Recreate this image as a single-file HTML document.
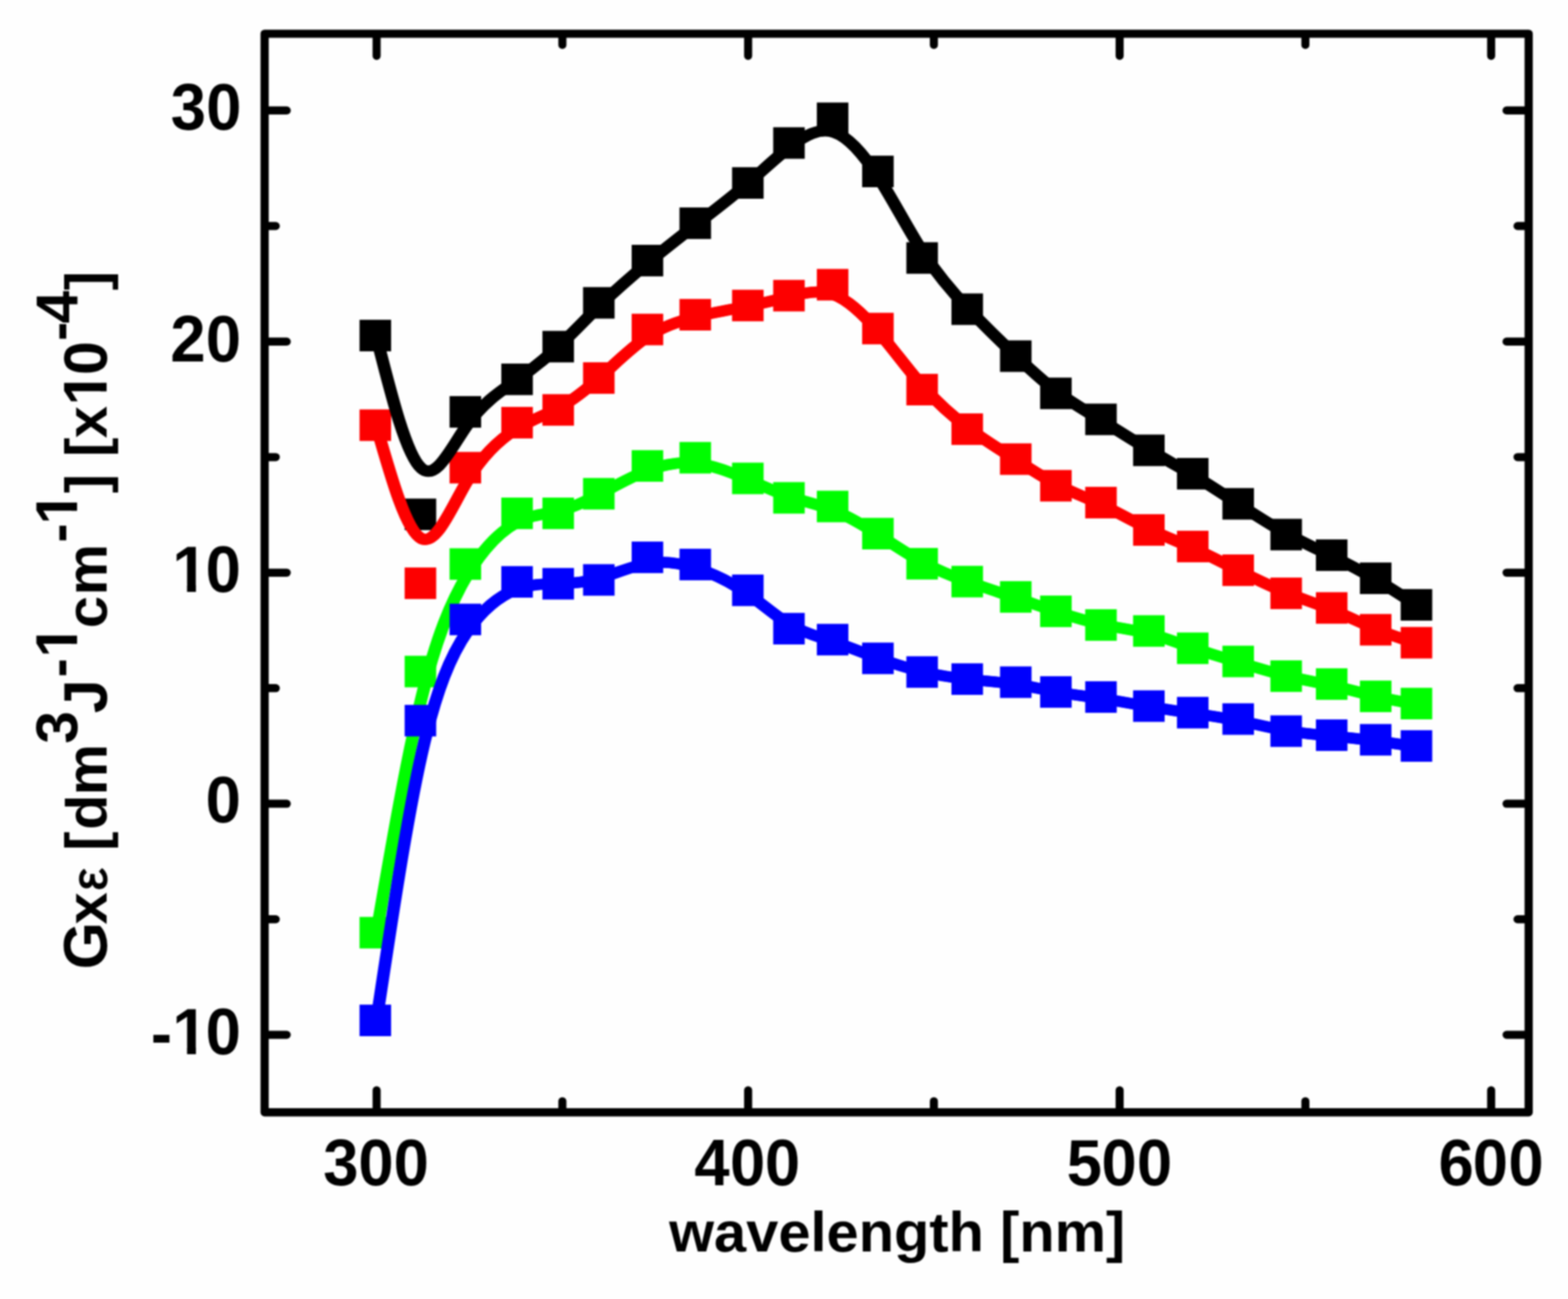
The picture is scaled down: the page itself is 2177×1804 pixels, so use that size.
<!DOCTYPE html>
<html lang="en"><head><meta charset="utf-8"><title>Gx&#949; vs wavelength</title>
<style>
html,body{margin:0;padding:0;background:#fefefe;}
body{width:2177px;height:1804px;overflow:hidden;}
svg{display:block;}
text{font-family:"Liberation Sans",Arial,Helvetica,sans-serif;font-weight:bold;fill:#000;}
.tk{font-size:88px;}
.lb{font-size:80px;}
</style></head><body>
<svg width="2177" height="1804" viewBox="0 0 2177 1804" role="img" aria-label="G x epsilon versus wavelength">
<defs><filter id="soft" filterUnits="userSpaceOnUse" x="0" y="0" width="2177" height="1804" color-interpolation-filters="sRGB"><feGaussianBlur stdDeviation="0.9"/></filter></defs>
<rect x="0" y="0" width="2177" height="1804" fill="#fefefe"/>
<g filter="url(#soft)">
<rect x="-20" y="-20" width="2217" height="1844" fill="#fefefe"/>
<g fill="#000000">
<rect x="499.2" y="444.1" width="43.8" height="43.8"/>
<rect x="561.8" y="692.4" width="43.8" height="43.8"/>
<rect x="624.2" y="550.1" width="43.8" height="43.8"/>
<rect x="696.0" y="504.9" width="43.8" height="43.8"/>
<rect x="753.1" y="459.5" width="43.8" height="43.8"/>
<rect x="809.5" y="398.7" width="43.8" height="43.8"/>
<rect x="877.0" y="340.0" width="43.8" height="43.8"/>
<rect x="943.4" y="288.1" width="43.8" height="43.8"/>
<rect x="1016.4" y="232.2" width="43.8" height="43.8"/>
<rect x="1073.5" y="176.7" width="43.8" height="43.8"/>
<rect x="1134.1" y="142.4" width="43.8" height="43.8"/>
<rect x="1197.0" y="216.2" width="43.8" height="43.8"/>
<rect x="1258.4" y="336.4" width="43.8" height="43.8"/>
<rect x="1321.0" y="407.5" width="43.8" height="43.8"/>
<rect x="1388.4" y="472.7" width="43.8" height="43.8"/>
<rect x="1444.1" y="524.4" width="43.8" height="43.8"/>
<rect x="1506.7" y="560.5" width="43.8" height="43.8"/>
<rect x="1573.2" y="603.5" width="43.8" height="43.8"/>
<rect x="1634.1" y="636.0" width="43.8" height="43.8"/>
<rect x="1697.2" y="677.8" width="43.8" height="43.8"/>
<rect x="1763.8" y="720.5" width="43.8" height="43.8"/>
<rect x="1827.0" y="749.1" width="43.8" height="43.8"/>
<rect x="1888.1" y="781.2" width="43.8" height="43.8"/>
<rect x="1944.7" y="818.1" width="43.8" height="43.8"/>
</g>
<g fill="#fd0000">
<rect x="499.2" y="568.6" width="43.8" height="43.8"/>
<rect x="561.8" y="788.1" width="43.8" height="43.8"/>
<rect x="624.2" y="627.6" width="43.8" height="43.8"/>
<rect x="696.0" y="565.1" width="43.8" height="43.8"/>
<rect x="753.1" y="547.4" width="43.8" height="43.8"/>
<rect x="809.5" y="503.1" width="43.8" height="43.8"/>
<rect x="877.0" y="435.7" width="43.8" height="43.8"/>
<rect x="943.4" y="415.2" width="43.8" height="43.8"/>
<rect x="1016.4" y="402.4" width="43.8" height="43.8"/>
<rect x="1073.5" y="388.7" width="43.8" height="43.8"/>
<rect x="1134.1" y="373.5" width="43.8" height="43.8"/>
<rect x="1197.0" y="434.4" width="43.8" height="43.8"/>
<rect x="1258.4" y="519.2" width="43.8" height="43.8"/>
<rect x="1321.0" y="574.1" width="43.8" height="43.8"/>
<rect x="1388.4" y="615.7" width="43.8" height="43.8"/>
<rect x="1444.1" y="652.7" width="43.8" height="43.8"/>
<rect x="1506.7" y="676.1" width="43.8" height="43.8"/>
<rect x="1573.2" y="714.1" width="43.8" height="43.8"/>
<rect x="1634.1" y="737.1" width="43.8" height="43.8"/>
<rect x="1697.2" y="770.0" width="43.8" height="43.8"/>
<rect x="1763.8" y="802.1" width="43.8" height="43.8"/>
<rect x="1827.0" y="822.4" width="43.8" height="43.8"/>
<rect x="1888.1" y="852.7" width="43.8" height="43.8"/>
<rect x="1944.7" y="870.7" width="43.8" height="43.8"/>
</g>
<g fill="none" stroke="#000000" stroke-width="15.3" stroke-linejoin="round" stroke-linecap="butt">
<path d="M522.6 467.3C543.5 550.1 564.3 632.8 585.2 650.5C606.0 668.2 626.8 620.7 649.2 589.5C671.5 558.2 695.5 543.2 716.9 528.1C738.4 513.0 757.5 497.8 776.4 480.1C795.3 462.4 814.1 442.2 834.8 422.2C855.4 402.3 877.9 382.8 900.2 364.3C922.5 345.9 944.7 328.6 967.9 310.6C991.1 292.7 1015.5 274.0 1037.1 255.5C1058.8 236.9 1077.9 218.4 1097.5 203.4C1117.1 188.5 1137.3 177.0 1157.9 183.6C1178.5 190.2 1199.4 214.8 1220.2 247.1C1240.9 279.5 1261.3 319.5 1282.0 351.4C1302.7 383.3 1323.5 407.0 1345.2 429.7C1366.9 452.4 1389.3 474.2 1409.9 493.7C1430.4 513.1 1448.9 530.4 1468.6 545.0C1488.4 559.6 1509.2 571.7 1530.8 584.8C1552.3 598.0 1574.4 612.4 1595.7 624.9C1616.9 637.5 1637.2 648.4 1657.9 660.7C1678.5 673.1 1699.6 687.1 1721.2 701.1C1742.8 715.2 1765.0 729.5 1786.6 741.3C1808.3 753.2 1829.3 762.8 1850.1 772.9C1870.8 783.0 1891.1 793.7 1910.8 805.2C1930.4 816.7 1949.2 829.0 1968.1 841.3" transform="translate(-1.0 0)"/>
<path d="M522.6 467.3C543.5 550.1 564.3 632.8 585.2 650.5C606.0 668.2 626.8 620.7 649.2 589.5C671.5 558.2 695.5 543.2 716.9 528.1C738.4 513.0 757.5 497.8 776.4 480.1C795.3 462.4 814.1 442.2 834.8 422.2C855.4 402.3 877.9 382.8 900.2 364.3C922.5 345.9 944.7 328.6 967.9 310.6C991.1 292.7 1015.5 274.0 1037.1 255.5C1058.8 236.9 1077.9 218.4 1097.5 203.4C1117.1 188.5 1137.3 177.0 1157.9 183.6C1178.5 190.2 1199.4 214.8 1220.2 247.1C1240.9 279.5 1261.3 319.5 1282.0 351.4C1302.7 383.3 1323.5 407.0 1345.2 429.7C1366.9 452.4 1389.3 474.2 1409.9 493.7C1430.4 513.1 1448.9 530.4 1468.6 545.0C1488.4 559.6 1509.2 571.7 1530.8 584.8C1552.3 598.0 1574.4 612.4 1595.7 624.9C1616.9 637.5 1637.2 648.4 1657.9 660.7C1678.5 673.1 1699.6 687.1 1721.2 701.1C1742.8 715.2 1765.0 729.5 1786.6 741.3C1808.3 753.2 1829.3 762.8 1850.1 772.9C1870.8 783.0 1891.1 793.7 1910.8 805.2C1930.4 816.7 1949.2 829.0 1968.1 841.3" transform="translate(1.0 0)"/>
</g>
<g fill="none" stroke="#fd0000" stroke-width="15.3" stroke-linejoin="round" stroke-linecap="butt">
<path d="M522.6 591.8C543.5 665.0 564.3 738.1 585.2 748.0C606.0 757.8 626.8 704.3 649.2 667.1C671.5 630.0 695.5 609.1 716.9 595.8C738.4 582.4 757.5 576.5 776.4 566.2C795.3 555.8 814.1 541.1 834.8 522.4C855.4 503.8 877.9 481.4 900.2 466.7C922.5 452.1 944.7 445.2 967.9 439.7C991.1 434.1 1015.5 429.9 1037.1 425.5C1058.8 421.0 1077.9 416.5 1097.5 411.7C1117.1 406.8 1137.3 401.8 1157.9 409.4C1178.5 417.0 1199.4 437.3 1220.2 461.6C1240.9 485.9 1261.3 514.1 1282.0 537.4C1302.7 560.7 1323.5 579.0 1345.2 595.1C1366.9 611.2 1389.3 625.0 1409.9 638.1C1430.4 651.2 1448.9 663.6 1468.6 673.6C1488.4 683.7 1509.2 691.5 1530.8 701.7C1552.3 712.0 1574.4 724.6 1595.7 734.8C1616.9 745.0 1637.2 752.6 1657.9 761.9C1678.5 771.3 1699.6 782.2 1721.2 793.1C1742.8 803.9 1765.0 814.6 1786.6 823.3C1808.3 832.1 1829.3 838.8 1850.1 847.3C1870.8 855.7 1891.1 865.8 1910.8 873.8C1930.4 881.9 1949.2 887.9 1968.1 893.9" transform="translate(-1.0 0)"/>
<path d="M522.6 591.8C543.5 665.0 564.3 738.1 585.2 748.0C606.0 757.8 626.8 704.3 649.2 667.1C671.5 630.0 695.5 609.1 716.9 595.8C738.4 582.4 757.5 576.5 776.4 566.2C795.3 555.8 814.1 541.1 834.8 522.4C855.4 503.8 877.9 481.4 900.2 466.7C922.5 452.1 944.7 445.2 967.9 439.7C991.1 434.1 1015.5 429.9 1037.1 425.5C1058.8 421.0 1077.9 416.5 1097.5 411.7C1117.1 406.8 1137.3 401.8 1157.9 409.4C1178.5 417.0 1199.4 437.3 1220.2 461.6C1240.9 485.9 1261.3 514.1 1282.0 537.4C1302.7 560.7 1323.5 579.0 1345.2 595.1C1366.9 611.2 1389.3 625.0 1409.9 638.1C1430.4 651.2 1448.9 663.6 1468.6 673.6C1488.4 683.7 1509.2 691.5 1530.8 701.7C1552.3 712.0 1574.4 724.6 1595.7 734.8C1616.9 745.0 1637.2 752.6 1657.9 761.9C1678.5 771.3 1699.6 782.2 1721.2 793.1C1742.8 803.9 1765.0 814.6 1786.6 823.3C1808.3 832.1 1829.3 838.8 1850.1 847.3C1870.8 855.7 1891.1 865.8 1910.8 873.8C1930.4 881.9 1949.2 887.9 1968.1 893.9" transform="translate(1.0 0)"/>
</g>
<g fill="#00fd00">
<rect x="499.2" y="1273.4" width="43.8" height="43.8"/>
<rect x="561.8" y="910.7" width="43.8" height="43.8"/>
<rect x="624.2" y="761.4" width="43.8" height="43.8"/>
<rect x="696.0" y="691.0" width="43.8" height="43.8"/>
<rect x="753.1" y="691.0" width="43.8" height="43.8"/>
<rect x="809.5" y="663.8" width="43.8" height="43.8"/>
<rect x="877.0" y="625.2" width="43.8" height="43.8"/>
<rect x="943.4" y="613.8" width="43.8" height="43.8"/>
<rect x="1016.4" y="642.5" width="43.8" height="43.8"/>
<rect x="1073.5" y="669.5" width="43.8" height="43.8"/>
<rect x="1134.1" y="681.5" width="43.8" height="43.8"/>
<rect x="1197.0" y="719.2" width="43.8" height="43.8"/>
<rect x="1258.4" y="761.0" width="43.8" height="43.8"/>
<rect x="1321.0" y="785.8" width="43.8" height="43.8"/>
<rect x="1388.4" y="807.1" width="43.8" height="43.8"/>
<rect x="1444.1" y="827.1" width="43.8" height="43.8"/>
<rect x="1506.7" y="846.1" width="43.8" height="43.8"/>
<rect x="1573.2" y="854.4" width="43.8" height="43.8"/>
<rect x="1634.1" y="878.4" width="43.8" height="43.8"/>
<rect x="1697.2" y="896.7" width="43.8" height="43.8"/>
<rect x="1763.8" y="917.1" width="43.8" height="43.8"/>
<rect x="1827.0" y="928.1" width="43.8" height="43.8"/>
<rect x="1888.1" y="945.2" width="43.8" height="43.8"/>
<rect x="1944.7" y="955.2" width="43.8" height="43.8"/>
</g>
<g fill="none" stroke="#00fd00" stroke-width="15.3" stroke-linejoin="round" stroke-linecap="butt">
<path d="M522.6 1296.6C543.5 1175.7 564.3 1054.8 585.2 969.5C606.0 884.1 626.8 834.4 649.2 797.8C671.5 761.1 695.5 737.7 716.9 725.9C738.4 714.2 757.5 714.2 776.4 709.7C795.3 705.1 814.1 696.1 834.8 685.1C855.4 674.1 877.9 661.3 900.2 652.9C922.5 644.6 944.7 640.8 967.9 643.7C991.1 646.6 1015.5 656.1 1037.1 665.4C1058.8 674.7 1077.9 683.7 1097.5 690.2C1117.1 696.7 1137.3 700.7 1157.9 709.0C1178.5 717.3 1199.4 729.8 1220.2 743.1C1240.9 756.3 1261.3 770.3 1282.0 781.4C1302.7 792.5 1323.5 800.7 1345.2 808.4C1366.9 816.1 1389.3 823.2 1409.9 830.1C1430.4 837.0 1448.9 843.6 1468.6 850.1C1488.4 856.6 1509.2 863.0 1530.8 867.5C1552.3 872.1 1574.4 874.8 1595.7 880.2C1616.9 885.6 1637.2 893.6 1657.9 900.6C1678.5 907.7 1699.6 913.8 1721.2 920.2C1742.8 926.7 1765.0 933.5 1786.6 938.7C1808.3 944.0 1829.3 947.6 1850.1 952.3C1870.8 957.0 1891.1 962.7 1910.8 967.2C1930.4 971.7 1949.2 975.1 1968.1 978.4" transform="translate(-1.0 0)"/>
<path d="M522.6 1296.6C543.5 1175.7 564.3 1054.8 585.2 969.5C606.0 884.1 626.8 834.4 649.2 797.8C671.5 761.1 695.5 737.7 716.9 725.9C738.4 714.2 757.5 714.2 776.4 709.7C795.3 705.1 814.1 696.1 834.8 685.1C855.4 674.1 877.9 661.3 900.2 652.9C922.5 644.6 944.7 640.8 967.9 643.7C991.1 646.6 1015.5 656.1 1037.1 665.4C1058.8 674.7 1077.9 683.7 1097.5 690.2C1117.1 696.7 1137.3 700.7 1157.9 709.0C1178.5 717.3 1199.4 729.8 1220.2 743.1C1240.9 756.3 1261.3 770.3 1282.0 781.4C1302.7 792.5 1323.5 800.7 1345.2 808.4C1366.9 816.1 1389.3 823.2 1409.9 830.1C1430.4 837.0 1448.9 843.6 1468.6 850.1C1488.4 856.6 1509.2 863.0 1530.8 867.5C1552.3 872.1 1574.4 874.8 1595.7 880.2C1616.9 885.6 1637.2 893.6 1657.9 900.6C1678.5 907.7 1699.6 913.8 1721.2 920.2C1742.8 926.7 1765.0 933.5 1786.6 938.7C1808.3 944.0 1829.3 947.6 1850.1 952.3C1870.8 957.0 1891.1 962.7 1910.8 967.2C1930.4 971.7 1949.2 975.1 1968.1 978.4" transform="translate(1.0 0)"/>
</g>
<g fill="#0000fd">
<rect x="499.2" y="1395.2" width="43.8" height="43.8"/>
<rect x="561.8" y="978.9" width="43.8" height="43.8"/>
<rect x="624.2" y="838.4" width="43.8" height="43.8"/>
<rect x="696.0" y="786.2" width="43.8" height="43.8"/>
<rect x="753.1" y="788.8" width="43.8" height="43.8"/>
<rect x="809.5" y="783.5" width="43.8" height="43.8"/>
<rect x="877.0" y="752.1" width="43.8" height="43.8"/>
<rect x="943.4" y="762.1" width="43.8" height="43.8"/>
<rect x="1016.4" y="797.9" width="43.8" height="43.8"/>
<rect x="1073.5" y="851.2" width="43.8" height="43.8"/>
<rect x="1134.1" y="866.4" width="43.8" height="43.8"/>
<rect x="1197.0" y="892.4" width="43.8" height="43.8"/>
<rect x="1258.4" y="911.4" width="43.8" height="43.8"/>
<rect x="1321.0" y="921.2" width="43.8" height="43.8"/>
<rect x="1388.4" y="925.5" width="43.8" height="43.8"/>
<rect x="1444.1" y="939.1" width="43.8" height="43.8"/>
<rect x="1506.7" y="946.1" width="43.8" height="43.8"/>
<rect x="1573.2" y="958.7" width="43.8" height="43.8"/>
<rect x="1634.1" y="967.8" width="43.8" height="43.8"/>
<rect x="1697.2" y="976.7" width="43.8" height="43.8"/>
<rect x="1763.8" y="993.5" width="43.8" height="43.8"/>
<rect x="1827.0" y="999.1" width="43.8" height="43.8"/>
<rect x="1888.1" y="1005.5" width="43.8" height="43.8"/>
<rect x="1944.7" y="1014.1" width="43.8" height="43.8"/>
</g>
<g fill="none" stroke="#0000fd" stroke-width="15.3" stroke-linejoin="round" stroke-linecap="butt">
<path d="M522.6 1418.4C543.5 1279.6 564.3 1140.9 585.2 1048.1C606.0 955.3 626.8 908.4 649.2 876.3C671.5 844.2 695.5 826.8 716.9 818.5C738.4 810.3 757.5 811.1 776.4 810.7C795.3 810.2 814.1 808.5 834.8 802.3C855.4 796.2 877.9 785.8 900.2 782.2C922.5 778.6 944.7 782.0 967.9 789.6C991.1 797.2 1015.5 809.2 1037.1 824.0C1058.8 838.9 1077.9 856.6 1097.5 868.0C1117.1 879.5 1137.3 884.5 1157.9 891.4C1178.5 898.3 1199.4 906.9 1220.2 914.4C1240.9 921.9 1261.3 928.3 1282.0 933.1C1302.7 937.9 1323.5 941.1 1345.2 943.5C1366.9 945.8 1389.3 947.3 1409.9 950.2C1430.4 953.2 1448.9 957.8 1468.6 961.2C1488.4 964.6 1509.2 967.0 1530.8 970.2C1552.3 973.5 1574.4 977.7 1595.7 981.3C1616.9 984.9 1637.2 988.0 1657.9 991.0C1678.5 994.0 1699.6 996.9 1721.2 1001.2C1742.8 1005.5 1765.0 1011.1 1786.6 1014.8C1808.3 1018.6 1829.3 1020.4 1850.1 1022.4C1870.8 1024.4 1891.1 1026.6 1910.8 1029.1C1930.4 1031.6 1949.2 1034.4 1968.1 1037.3" transform="translate(-1.0 0)"/>
<path d="M522.6 1418.4C543.5 1279.6 564.3 1140.9 585.2 1048.1C606.0 955.3 626.8 908.4 649.2 876.3C671.5 844.2 695.5 826.8 716.9 818.5C738.4 810.3 757.5 811.1 776.4 810.7C795.3 810.2 814.1 808.5 834.8 802.3C855.4 796.2 877.9 785.8 900.2 782.2C922.5 778.6 944.7 782.0 967.9 789.6C991.1 797.2 1015.5 809.2 1037.1 824.0C1058.8 838.9 1077.9 856.6 1097.5 868.0C1117.1 879.5 1137.3 884.5 1157.9 891.4C1178.5 898.3 1199.4 906.9 1220.2 914.4C1240.9 921.9 1261.3 928.3 1282.0 933.1C1302.7 937.9 1323.5 941.1 1345.2 943.5C1366.9 945.8 1389.3 947.3 1409.9 950.2C1430.4 953.2 1448.9 957.8 1468.6 961.2C1488.4 964.6 1509.2 967.0 1530.8 970.2C1552.3 973.5 1574.4 977.7 1595.7 981.3C1616.9 984.9 1637.2 988.0 1657.9 991.0C1678.5 994.0 1699.6 996.9 1721.2 1001.2C1742.8 1005.5 1765.0 1011.1 1786.6 1014.8C1808.3 1018.6 1829.3 1020.4 1850.1 1022.4C1870.8 1024.4 1891.1 1026.6 1910.8 1029.1C1930.4 1031.6 1949.2 1034.4 1968.1 1037.3" transform="translate(1.0 0)"/>
</g>
<g stroke="#000" stroke-width="11.2" stroke-linecap="round" fill="none">
<line x1="522.9" y1="1543.8" x2="522.9" y2="1514.1"/>
<line x1="522.9" y1="47.9" x2="522.9" y2="77.6"/>
<line x1="780.8" y1="1543.8" x2="780.8" y2="1529.3"/>
<line x1="780.8" y1="47.9" x2="780.8" y2="62.4"/>
<line x1="1038.7" y1="1543.8" x2="1038.7" y2="1514.1"/>
<line x1="1038.7" y1="47.9" x2="1038.7" y2="77.6"/>
<line x1="1296.6" y1="1543.8" x2="1296.6" y2="1529.3"/>
<line x1="1296.6" y1="47.9" x2="1296.6" y2="62.4"/>
<line x1="1554.5" y1="1543.8" x2="1554.5" y2="1514.1"/>
<line x1="1554.5" y1="47.9" x2="1554.5" y2="77.6"/>
<line x1="1812.4" y1="1543.8" x2="1812.4" y2="1529.3"/>
<line x1="1812.4" y1="47.9" x2="1812.4" y2="62.4"/>
<line x1="2070.3" y1="1543.8" x2="2070.3" y2="1514.1"/>
<line x1="2070.3" y1="47.9" x2="2070.3" y2="77.6"/>
<line x1="368.4" y1="1437.1" x2="398.1" y2="1437.1"/>
<line x1="2121.4" y1="1437.1" x2="2091.7" y2="1437.1"/>
<line x1="368.4" y1="1276.6" x2="382.9" y2="1276.6"/>
<line x1="2121.4" y1="1276.6" x2="2106.9" y2="1276.6"/>
<line x1="368.4" y1="1116.2" x2="398.1" y2="1116.2"/>
<line x1="2121.4" y1="1116.2" x2="2091.7" y2="1116.2"/>
<line x1="368.4" y1="955.7" x2="382.9" y2="955.7"/>
<line x1="2121.4" y1="955.7" x2="2106.9" y2="955.7"/>
<line x1="368.4" y1="795.3" x2="398.1" y2="795.3"/>
<line x1="2121.4" y1="795.3" x2="2091.7" y2="795.3"/>
<line x1="368.4" y1="634.8" x2="382.9" y2="634.8"/>
<line x1="2121.4" y1="634.8" x2="2106.9" y2="634.8"/>
<line x1="368.4" y1="474.4" x2="398.1" y2="474.4"/>
<line x1="2121.4" y1="474.4" x2="2091.7" y2="474.4"/>
<line x1="368.4" y1="313.9" x2="382.9" y2="313.9"/>
<line x1="2121.4" y1="313.9" x2="2106.9" y2="313.9"/>
<line x1="368.4" y1="153.4" x2="398.1" y2="153.4"/>
<line x1="2121.4" y1="153.4" x2="2091.7" y2="153.4"/>
</g>
<rect x="367.4" y="46.9" width="1755.0" height="1497.9" fill="none" stroke="#000" stroke-width="11.4" stroke-linejoin="round"/>
<g transform="translate(0 1646.0) scale(1 1.040)">
<text class="tk" x="448.8 497.6 546.5" y="0 0 0">300</text>
</g>
<g transform="translate(0 1646.0) scale(1 1.040)">
<text class="tk" x="963.9 1013.4 1062.1" y="0 0 0">400</text>
</g>
<g transform="translate(0 1646.0) scale(1 1.040)">
<text class="tk" x="1481.1 1529.3 1578.4" y="0 0 0">500</text>
</g>
<g transform="translate(0 1646.0) scale(1 1.040)">
<text class="tk" x="1997.3 2044.7 2094.2" y="0 0 0">600</text>
</g>
<g transform="translate(0 179.5) scale(1 1.040)">
<text class="tk" x="237.0 286.3" y="0 0">30</text>
</g>
<g transform="translate(0 501.7) scale(1 1.040)">
<text class="tk" x="236.5 285.8" y="0 0">20</text>
</g>
<g transform="translate(0 822.2) scale(1 1.040)">
<text class="tk" x="239.3 285.6" y="0 0">10</text>
<g fill="#fefefe"><rect x="244.01" y="-10.18" width="15.66" height="11.38"/><rect x="272.05" y="-10.18" width="14.65" height="11.38"/></g>
</g>
<g transform="translate(0 1142.2) scale(1 1.040)">
<text class="tk" x="285.6" y="0">0</text>
</g>
<g transform="translate(0 1464.0) scale(1 1.040)">
<text class="tk" x="209.6 239.3 285.6" y="1.6 0 0">-10</text>
<g fill="#fefefe"><rect x="244.01" y="-10.18" width="15.66" height="11.38"/><rect x="272.05" y="-10.18" width="14.65" height="11.38"/></g>
</g>
<text class="lb" transform="translate(1245.6 1738) scale(1 0.978)" x="0" y="0" text-anchor="middle" style="font-size:80.3px">wavelength [nm]</text>
<g transform="translate(148.4 1345) rotate(-90)">
<text class="lb" xml:space="preserve" style="white-space:pre"><tspan x="-1.2" y="0.0" style="font-size:84.5px">G</tspan><tspan x="61.2" y="0.0">x</tspan><tspan x="108.6" y="-0.6" style="font-weight:normal;font-size:70px;stroke:#000;stroke-width:1.7px;stroke-linejoin:round">&#949;</tspan><tspan x="140.8 163.5 192.7 240.6" y="0.0 -1.4 0.0 0.0"> [dm</tspan><tspan x="312.3" y="-41.2" style="font-size:81.5px">3</tspan><tspan x="354.5" y="0.0" style="font-size:84.5px">J</tspan><tspan x="404.2" y="-40.2">-</tspan><tspan x="431.9" y="-41.2" style="font-size:81.5px">1</tspan><tspan x="472.8 518.3 591.5" y="0.0 0.0 -40.2">cm-</tspan><tspan x="616.7" y="-41.2" style="font-size:81.5px">1</tspan><tspan x="660.1 687.2 710.5 736.4" y="-1.4 0.0 -1.4 0.0">] [x</tspan><tspan x="781.9 824.2" y="0.0 0.0" style="font-size:84.5px">10</tspan><tspan x="871.6" y="-40.2">-</tspan><tspan x="895.8" y="-41.2" style="font-size:81.5px">4</tspan><tspan x="941.7" y="-1.4">]</tspan></text>
<g fill="#fefefe"><rect x="436.32" y="-50.72" width="14.49" height="10.72"/><rect x="462.29" y="-50.72" width="13.57" height="10.72"/><rect x="621.09" y="-50.72" width="14.49" height="10.72"/><rect x="647.06" y="-50.72" width="13.57" height="10.72"/><rect x="786.45" y="-9.82" width="15.03" height="11.02"/><rect x="813.38" y="-9.82" width="14.07" height="11.02"/></g>
</g>
</g>
</svg>
</body></html>
